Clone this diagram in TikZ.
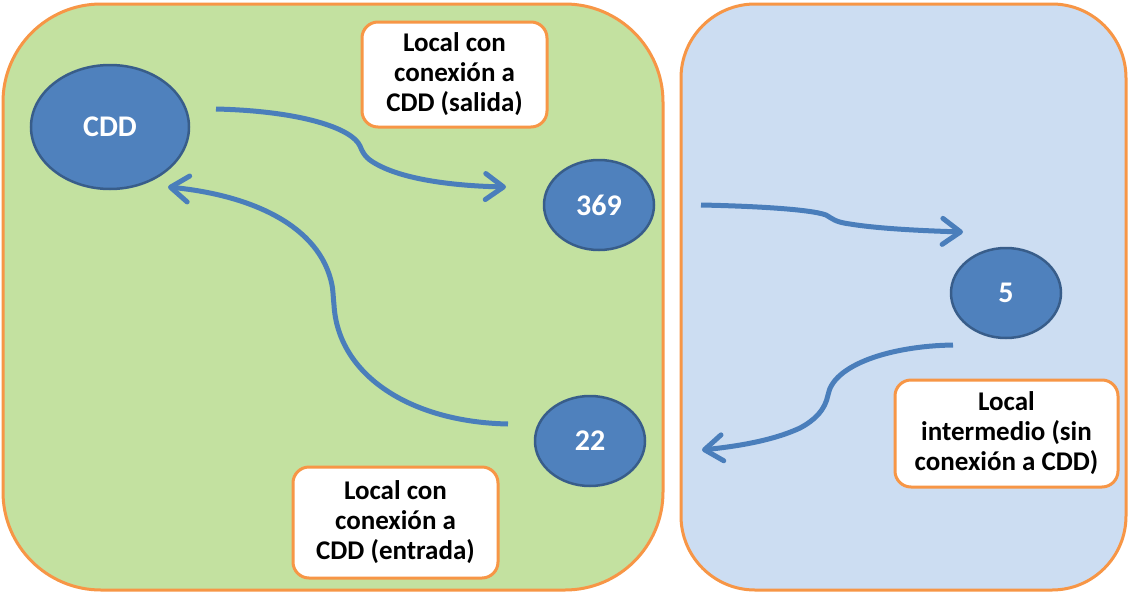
\documentclass[tikz,border=0pt]{standalone}
\usepackage{fontspec}
\setmainfont{Carlito}
\usetikzlibrary{arrows.meta,shapes.geometric}
\definecolor{panelgreen}{HTML}{C3E1A0}
\definecolor{panelblue}{HTML}{CCDDF2}
\definecolor{edgeorange}{HTML}{F79646}
\definecolor{nodeblue}{HTML}{4F81BD}
\definecolor{nodeedge}{HTML}{385D8A}
\definecolor{arrowblue}{HTML}{4A7EBB}
\tikzset{
  panel/.style={draw=edgeorange, line width=3pt},
  site/.style={ellipse, fill=nodeblue, draw=nodeedge, line width=2.5pt, inner sep=0pt,
    text=white, font=\bfseries\fontsize{30}{34}\selectfont},
  labelbox/.style={draw=edgeorange, fill=white, line width=3pt, rounded corners=16pt,
    align=center, inner sep=0pt, font=\bfseries\fontsize{27}{30}\selectfont},
  flow/.style={draw=arrowblue, line width=5pt,
    -{Straight Barb[length=18pt,width=26pt,line width=5pt,round]}}
}
\begin{document}
\begin{tikzpicture}[x=1pt,y=-1pt]
\useasboundingbox[fill=white] (0,0) rectangle (1128,592);
% panels
\draw[panel, fill=panelgreen, rounded corners=98pt] (3,4) rectangle (663,590);
\draw[panel, fill=panelblue, rounded corners=74pt] (681,4) rectangle (1126,590);
% sites
\node[site, minimum width=158pt, minimum height=124pt] (cdd) at (110,127) {CDD};
\node[site, minimum width=110pt, minimum height=90pt] (n369) at (599,205) {369};
\node[site, minimum width=110pt, minimum height=90pt] (n5) at (1006,293) {5};
\node[site, minimum width=110pt, minimum height=90pt] (n22) at (590,441) {22};
% labels
\node[labelbox, minimum width=185pt, minimum height=105pt] (lsal) at (454.5,74.5)
  {Local con\\conexión a\\CDD (salida)};
\node[labelbox, minimum width=205pt, minimum height=111pt] (lent) at (395.5,522.5)
  {Local con\\conexión a\\CDD (entrada)};
\node[labelbox, minimum width=223pt, minimum height=107pt] (lint) at (1006.5,433.5)
  {Local\\intermedio (sin\\conexión a CDD)};
% connector ends
\coordinate (a1s) at (216,109);
\coordinate (a1e) at (506,187);
\coordinate (a2s) at (508,424);
\coordinate (a2e) at (168,187);
\coordinate (a3s) at (701,205);
\coordinate (a3e) at (963,232);
\coordinate (a4s) at (953,345);
\coordinate (a4e) at (702,450);
% connectors
\draw[flow] (a1s) .. controls (300,111) and (352,128) .. (360,146)
  .. controls (364,156) and (368,160) .. (380,166)
  .. controls (410,181) and (460,186) .. (a1e);
\draw[flow] (a2s) .. controls (410,422) and (338,375) .. (334,305)
  .. controls (333,295) and (333,290) .. (332,285)
  .. controls (320,225) and (250,195) .. (a2e);
\draw[flow] (a3s) .. controls (750,206) and (810,209) .. (826,215)
  .. controls (833,219) and (835,222) .. (850,224)
  .. controls (880,229) and (930,231) .. (a3e);
\draw[flow] (a4s) .. controls (890,346) and (833,365) .. (828,395)
  .. controls (825,410) and (815,420) .. (800,428)
  .. controls (770,442) and (730,447) .. (a4e);
\end{tikzpicture}
\end{document}
